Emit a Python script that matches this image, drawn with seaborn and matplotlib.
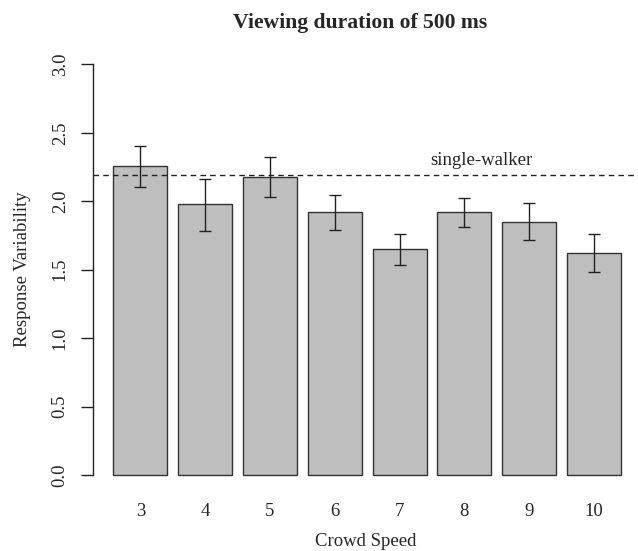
import matplotlib
matplotlib.use("Agg")
import matplotlib.pyplot as plt
import seaborn as sns
import numpy as np
import pandas as pd

speeds = ["3", "4", "5", "6", "7", "8", "9", "10"]
means = [2.257, 1.977, 2.177, 1.921, 1.651, 1.923, 1.850, 1.619]
err_low = [2.101, 1.785, 2.031, 1.792, 1.534, 1.814, 1.717, 1.481]
err_high = [2.405, 2.165, 2.321, 2.048, 1.763, 2.023, 1.989, 1.758]
single_walker = 2.191
yticks = [0.0, 0.5, 1.0, 1.5, 2.0, 2.5, 3.0]

sns.set_style("white")
plt.rcParams['font.family'] = ['Liberation Serif', 'DejaVu Serif']

W, H = 638, 551
fig = plt.figure(figsize=(W / 100, H / 100), dpi=100)
left_px, right_px = 93, 638
top_px, bot_px = 47.9, 491.4
ax = fig.add_axes([left_px / W, 1 - bot_px / H, (right_px - left_px) / W, (bot_px - top_px) / H])

df = pd.DataFrame({"speed": speeds, "value": means})
sns.barplot(data=df, x="speed", y="value", color="#BEBEBE", edgecolor="#333333",
            linewidth=1.0, width=0.833, errorbar=None, saturation=1, ax=ax)

m = np.array(means)
ax.errorbar(np.arange(len(speeds)), m, yerr=[m - np.array(err_low), np.array(err_high) - m],
            fmt="none", ecolor="#222222", elinewidth=1.0, capsize=4.3, capthick=1.0)

ax.axhline(single_walker, color="#222222", linestyle=(0, (4, 3)), linewidth=1.0)
ax.text(5.27, 2.264, "single-walker", ha="center", va="baseline", fontsize=13.5)

ax.set_xlim(-0.730, 7.68)
ax.set_ylim(-0.12, 3.12)

for s in ["top", "right", "bottom"]:
    ax.spines[s].set_visible(False)
ax.spines["left"].set_bounds(0, 3)
ax.spines["left"].set_color("#222222")
ax.spines["left"].set_linewidth(1.0)
ax.set_yticks(yticks)
ax.set_yticklabels([f"{t:.1f}" for t in yticks], rotation=90, va="center", fontsize=13.5)
ax.tick_params(axis="y", direction="out", length=8.5, width=1.0, color="#222222", pad=9, left=True)
ax.tick_params(axis="x", length=0, labelsize=13.5, pad=8)

ax.set_xlabel("Crowd Speed", fontsize=13.5, labelpad=10)
ax.set_ylabel("Response Variability", fontsize=13.5, labelpad=15)

fig.text(360 / W, 1 - 23 / H, "Viewing duration of 500 ms", ha="center", va="center",
         fontsize=15.6, fontweight="bold")

fig.savefig("out.png", dpi=100)
